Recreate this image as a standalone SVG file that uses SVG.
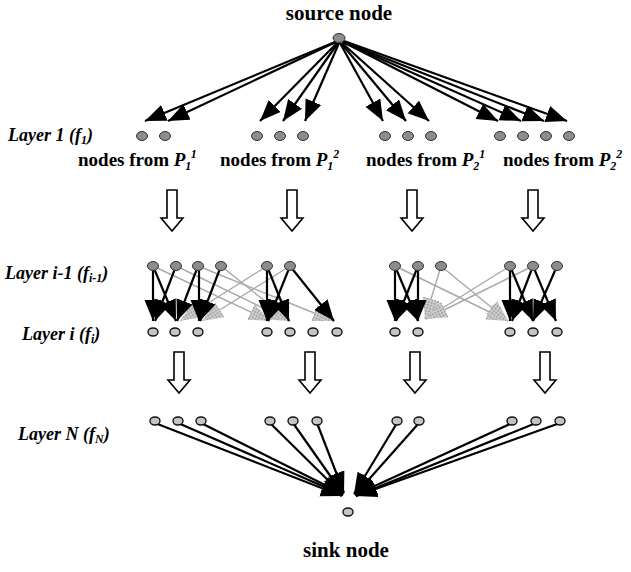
<svg xmlns="http://www.w3.org/2000/svg" width="631" height="572" viewBox="0 0 631 572">
<style>
.t{font-family:"Liberation Serif","Times New Roman",serif;font-weight:bold;fill:#000}
.lab{font-family:"Liberation Serif","Times New Roman",serif;font-weight:bold;font-style:italic;font-size:18px;fill:#000}
.n1{fill:#8c8c8c;stroke:#333;stroke-width:1}
.n2{fill:#c4c4c4;stroke:#111;stroke-width:1.4}
.bl{stroke:#000;stroke-width:2.2;fill:none;marker-end:url(#ah)}
.gl{stroke:#a8a8a8;stroke-width:1.4;fill:none;marker-end:url(#gh)}
.hol{fill:#fff;stroke:#000;stroke-width:1.6}
</style>
<defs>
<pattern id="hatch" patternUnits="userSpaceOnUse" width="3" height="3">
<rect width="3" height="3" fill="#d0d0d0"/>
<rect width="1.5" height="1.5" fill="#8a8a8a"/>
</pattern>
<marker id="ah" markerUnits="userSpaceOnUse" markerWidth="22" markerHeight="18" refX="21" refY="8.5" orient="auto" viewBox="0 0 22 18">
<path d="M0,0 L21,8.5 L0,17 z" fill="#000"/>
</marker>
<marker id="gh" markerUnits="userSpaceOnUse" markerWidth="22" markerHeight="18" refX="21" refY="8.5" orient="auto" viewBox="0 0 22 18">
<path d="M0,0 L21,8.5 L0,17 z" fill="url(#hatch)"/>
</marker>
</defs>

<g id="labels">
<text class="t" x="339" y="20" font-size="21" text-anchor="middle">source node</text>
<text class="lab" x="8" y="141">Layer 1 (f<tspan font-size="12" dy="3">1</tspan><tspan dy="-3">)</tspan></text>
<text class="t" x="78" y="166" font-size="19">nodes from <tspan font-style="italic">P</tspan><tspan font-style="italic" font-size="12" dy="4">1</tspan><tspan font-style="italic" font-size="12" dy="-12">1</tspan></text>
<text class="t" x="220" y="166" font-size="19">nodes from <tspan font-style="italic">P</tspan><tspan font-style="italic" font-size="12" dy="4">1</tspan><tspan font-style="italic" font-size="12" dy="-12">2</tspan></text>
<text class="t" x="366" y="166" font-size="19">nodes from <tspan font-style="italic">P</tspan><tspan font-style="italic" font-size="12" dy="4">2</tspan><tspan font-style="italic" font-size="12" dy="-12">1</tspan></text>
<text class="t" x="503" y="166" font-size="19">nodes from <tspan font-style="italic">P</tspan><tspan font-style="italic" font-size="12" dy="4">2</tspan><tspan font-style="italic" font-size="12" dy="-12">2</tspan></text>
<text class="lab" x="5" y="279">Layer i-1 (f<tspan font-size="12" dy="3">i-1</tspan><tspan dy="-3">)</tspan></text>
<text class="lab" x="22" y="340">Layer i (f<tspan font-size="12" dy="3">i</tspan><tspan dy="-3">)</tspan></text>
<text class="lab" x="18" y="440">Layer N (f<tspan font-size="12" dy="3">N</tspan><tspan dy="-3">)</tspan></text>
<text class="t" x="346" y="557" font-size="21" text-anchor="middle">sink node</text>
</g>

<g id="connectors">
<path class="bl" d="M335,42 L145,121"/>
<path class="bl" d="M336,42 L168,121"/>
<path class="bl" d="M337,43 L260,121"/>
<path class="bl" d="M338,43 L283,121"/>
<path class="bl" d="M339,43 L305,121"/>
<path class="bl" d="M340,43 L383,121"/>
<path class="bl" d="M341,43 L406,121"/>
<path class="bl" d="M342,43 L429,121"/>
<path class="bl" d="M343,42 L498,121"/>
<path class="bl" d="M343,42 L521,121"/>
<path class="bl" d="M344,42 L544,121"/>
<path class="bl" d="M344,41 L567,121"/>

<g id="hollow">
<path class="hol" d="M167,190 h10 v28 h6 l-11,13 l-11,-13 h6 z"/>
<path class="hol" d="M287,190 h10 v28 h6 l-11,13 l-11,-13 h6 z"/>
<path class="hol" d="M407,190 h10 v28 h6 l-11,13 l-11,-13 h6 z"/>
<path class="hol" d="M528,190 h10 v28 h6 l-11,13 l-11,-13 h6 z"/>
<path class="hol" d="M174,352 h10 v28 h6 l-11,13 l-11,-13 h6 z"/>
<path class="hol" d="M305,352 h10 v28 h6 l-11,13 l-11,-13 h6 z"/>
<path class="hol" d="M410,352 h10 v28 h6 l-11,13 l-11,-13 h6 z"/>
<path class="hol" d="M540,352 h10 v28 h6 l-11,13 l-11,-13 h6 z"/>
</g>

<path class="gl" d="M153,266 L270,321"/>
<path class="gl" d="M176,266 L290,321"/>
<path class="gl" d="M198,266 L334,321"/>
<path class="gl" d="M221,266 L290,321"/>
<path class="gl" d="M267,266 L180,321"/>
<path class="gl" d="M290,266 L202,321"/>
<path class="bl" d="M153,266 L153,321"/>
<path class="bl" d="M153,266 L176,321"/>
<path class="bl" d="M176,266 L155,321"/>
<path class="bl" d="M198,266 L177,321"/>
<path class="bl" d="M199,266 L199,321"/>
<path class="bl" d="M221,266 L200,321"/>
<path class="bl" d="M267,266 L267,321"/>
<path class="bl" d="M267,266 L289,321"/>
<path class="bl" d="M290,266 L268,321"/>
<path class="bl" d="M290,266 L334,321"/>

<path class="gl" d="M395,266 L508,321"/>
<path class="gl" d="M441,266 L508,321"/>
<path class="gl" d="M441,266 L425,319"/>
<path class="gl" d="M510,266 L425,319"/>
<path class="gl" d="M533,266 L426,319"/>
<path class="bl" d="M395,266 L395,321"/>
<path class="bl" d="M395,266 L418,321"/>
<path class="bl" d="M418,266 L396,321"/>
<path class="bl" d="M418,266 L418,321"/>
<path class="bl" d="M510,266 L510,321"/>
<path class="bl" d="M510,266 L533,321"/>
<path class="bl" d="M533,266 L512,321"/>
<path class="bl" d="M533,266 L556,321"/>
<path class="bl" d="M557,266 L533,321"/>

<path class="bl" d="M155,423 L342,496"/>
<path class="bl" d="M178,423 L343,495"/>
<path class="bl" d="M201,423 L343,494"/>
<path class="bl" d="M270,423 L343,495"/>
<path class="bl" d="M293,423 L343,494"/>
<path class="bl" d="M317,423 L344,493"/>
<path class="bl" d="M397,423 L354,494"/>
<path class="bl" d="M419,423 L355,495"/>
<path class="bl" d="M512,423 L355,495"/>
<path class="bl" d="M536,423 L356,496"/>
<path class="bl" d="M560,423 L356,496"/>
</g>

<g id="source"><ellipse class="n1" cx="339" cy="38" rx="6" ry="4.5"/></g>
<g id="layer1">
<ellipse class="n1" cx="142" cy="136" rx="5.5" ry="4.5"/>
<ellipse class="n1" cx="165" cy="136" rx="5.5" ry="4.5"/>
<ellipse class="n1" cx="257" cy="136" rx="5.5" ry="4.5"/>
<ellipse class="n1" cx="280" cy="136" rx="5.5" ry="4.5"/>
<ellipse class="n1" cx="303" cy="136" rx="5.5" ry="4.5"/>
<ellipse class="n1" cx="385" cy="136" rx="5.5" ry="4.5"/>
<ellipse class="n1" cx="408" cy="136" rx="5.5" ry="4.5"/>
<ellipse class="n1" cx="431" cy="136" rx="5.5" ry="4.5"/>
<ellipse class="n1" cx="500" cy="136" rx="5.5" ry="4.5"/>
<ellipse class="n1" cx="523" cy="136" rx="5.5" ry="4.5"/>
<ellipse class="n1" cx="546" cy="136" rx="5.5" ry="4.5"/>
<ellipse class="n1" cx="569" cy="136" rx="5.5" ry="4.5"/>
</g>
<g id="layer-i-1">
<ellipse class="n1" cx="153" cy="266" rx="5.5" ry="4.5"/>
<ellipse class="n1" cx="176" cy="266" rx="5.5" ry="4.5"/>
<ellipse class="n1" cx="198" cy="266" rx="5.5" ry="4.5"/>
<ellipse class="n1" cx="221" cy="266" rx="5.5" ry="4.5"/>
<ellipse class="n1" cx="267" cy="266" rx="5.5" ry="4.5"/>
<ellipse class="n1" cx="290" cy="266" rx="5.5" ry="4.5"/>
<ellipse class="n1" cx="395" cy="266" rx="5.5" ry="4.5"/>
<ellipse class="n1" cx="418" cy="266" rx="5.5" ry="4.5"/>
<ellipse class="n1" cx="441" cy="266" rx="5.5" ry="4.5"/>
<ellipse class="n1" cx="510" cy="266" rx="5.5" ry="4.5"/>
<ellipse class="n1" cx="533" cy="266" rx="5.5" ry="4.5"/>
<ellipse class="n1" cx="557" cy="266" rx="5.5" ry="4.5"/>
</g>
<g id="layer-i">
<ellipse class="n2" cx="153" cy="332" rx="5" ry="4"/>
<ellipse class="n2" cx="175" cy="332" rx="5" ry="4"/>
<ellipse class="n2" cx="198" cy="332" rx="5" ry="4"/>
<ellipse class="n2" cx="267" cy="332" rx="5" ry="4"/>
<ellipse class="n2" cx="290" cy="332" rx="5" ry="4"/>
<ellipse class="n2" cx="313" cy="332" rx="5" ry="4"/>
<ellipse class="n2" cx="337" cy="332" rx="5" ry="4"/>
<ellipse class="n2" cx="395" cy="332" rx="5" ry="4"/>
<ellipse class="n2" cx="418" cy="332" rx="5" ry="4"/>
<ellipse class="n2" cx="510" cy="332" rx="5" ry="4"/>
<ellipse class="n2" cx="533" cy="332" rx="5" ry="4"/>
<ellipse class="n2" cx="557" cy="332" rx="5" ry="4"/>
</g>
<g id="layerN">
<ellipse class="n2" cx="155" cy="421" rx="5" ry="4"/>
<ellipse class="n2" cx="178" cy="421" rx="5" ry="4"/>
<ellipse class="n2" cx="201" cy="421" rx="5" ry="4"/>
<ellipse class="n2" cx="270" cy="421" rx="5" ry="4"/>
<ellipse class="n2" cx="293" cy="421" rx="5" ry="4"/>
<ellipse class="n2" cx="317" cy="421" rx="5" ry="4"/>
<ellipse class="n2" cx="397" cy="421" rx="5" ry="4"/>
<ellipse class="n2" cx="419" cy="421" rx="5" ry="4"/>
<ellipse class="n2" cx="512" cy="421" rx="5" ry="4"/>
<ellipse class="n2" cx="536" cy="421" rx="5" ry="4"/>
<ellipse class="n2" cx="560" cy="421" rx="5" ry="4"/>
</g>
<g id="sink"><ellipse class="n2" cx="348" cy="512" rx="5" ry="4"/></g>
</svg>
